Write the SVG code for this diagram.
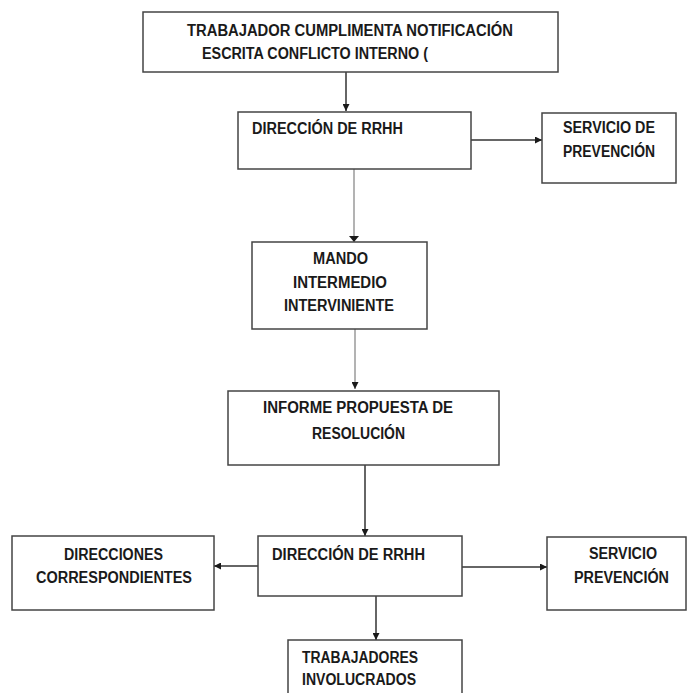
<svg xmlns="http://www.w3.org/2000/svg" width="687" height="693" viewBox="0 0 687 693">
<style>
.box{fill:#fff;stroke:#444;stroke-width:1.5}
.t{font-family:"Liberation Sans",Arial,sans-serif;font-weight:bold;font-size:16px;fill:#1a1a1a}
.c{stroke:#333;stroke-width:1.5;fill:none}
.g{stroke:#9a9a9a;stroke-width:1.5;fill:none}
</style>
<defs>
<marker id="ah" viewBox="0 0 10 10" refX="10" refY="5" markerWidth="7" markerHeight="7" markerUnits="userSpaceOnUse" orient="auto"><path d="M0,0 L10,5 L0,10 z" fill="#1a1a1a"/></marker>
</defs>
<rect width="687" height="693" fill="#fff"/>
<g id="connectors">
<line class="c" x1="346" y1="72" x2="346" y2="111" marker-end="url(#ah)"/>
<line class="c" x1="471" y1="140" x2="542" y2="140" marker-end="url(#ah)"/>
<line class="g" x1="354" y1="169" x2="354" y2="242"/>
<path d="M349,236 L354,242 L359,236 z" fill="#1a1a1a"/>
<line class="g" x1="355" y1="329" x2="355" y2="389" marker-end="url(#ah)"/>
<line class="c" x1="365" y1="465" x2="365" y2="536" marker-end="url(#ah)"/>
<line class="c" x1="258" y1="566" x2="214" y2="566" marker-end="url(#ah)"/>
<line class="c" x1="462" y1="567" x2="547" y2="567" marker-end="url(#ah)"/>
<line class="c" x1="376" y1="596" x2="376" y2="640" marker-end="url(#ah)"/>
</g>
<g id="n1">
<rect class="box" x="143" y="12" width="415" height="60"/>
<text class="t" x="187" y="36" textLength="326" lengthAdjust="spacingAndGlyphs">TRABAJADOR  CUMPLIMENTA NOTIFICACIÓN</text>
<text class="t" x="202" y="59" textLength="226" lengthAdjust="spacingAndGlyphs">ESCRITA CONFLICTO INTERNO (</text>
</g>
<g id="n2">
<rect class="box" x="238" y="112" width="233" height="57"/>
<text class="t" x="252" y="134" textLength="151" lengthAdjust="spacingAndGlyphs">DIRECCIÓN DE RRHH</text>
</g>
<g id="n3">
<rect class="box" x="542" y="113" width="134" height="70"/>
<text class="t" x="563" y="133" textLength="92" lengthAdjust="spacingAndGlyphs">SERVICIO DE</text>
<text class="t" x="563" y="157" textLength="92" lengthAdjust="spacingAndGlyphs">PREVENCIÓN</text>
</g>
<g id="n4">
<rect class="box" x="252" y="242" width="175" height="87"/>
<text class="t" x="313" y="264" textLength="55" lengthAdjust="spacingAndGlyphs">MANDO</text>
<text class="t" x="293" y="288" textLength="94" lengthAdjust="spacingAndGlyphs">INTERMEDIO</text>
<text class="t" x="284" y="311" textLength="110" lengthAdjust="spacingAndGlyphs">INTERVINIENTE</text>
</g>
<g id="n5">
<rect class="box" x="228" y="391" width="271" height="74"/>
<text class="t" x="263" y="413" textLength="190" lengthAdjust="spacingAndGlyphs">INFORME  PROPUESTA DE</text>
<text class="t" x="312" y="439" textLength="93" lengthAdjust="spacingAndGlyphs">RESOLUCIÓN</text>
</g>
<g id="n6">
<rect class="box" x="258" y="536" width="204" height="60"/>
<text class="t" x="272" y="560" textLength="153" lengthAdjust="spacingAndGlyphs">DIRECCIÓN  DE RRHH</text>
</g>
<g id="n7">
<rect class="box" x="12" y="536" width="202" height="74"/>
<text class="t" x="64" y="560" textLength="99" lengthAdjust="spacingAndGlyphs">DIRECCIONES</text>
<text class="t" x="36" y="583" textLength="156" lengthAdjust="spacingAndGlyphs">CORRESPONDIENTES</text>
</g>
<g id="n8">
<rect class="box" x="547" y="537" width="139" height="73"/>
<text class="t" x="589" y="559" textLength="68" lengthAdjust="spacingAndGlyphs">SERVICIO</text>
<text class="t" x="574" y="583" textLength="95" lengthAdjust="spacingAndGlyphs">PREVENCIÓN</text>
</g>
<g id="n9">
<rect class="box" x="288" y="640" width="174" height="70"/>
<text class="t" x="302" y="663" textLength="116" lengthAdjust="spacingAndGlyphs">TRABAJADORES</text>
<text class="t" x="302" y="685" textLength="114" lengthAdjust="spacingAndGlyphs">INVOLUCRADOS</text>
</g>
</svg>
